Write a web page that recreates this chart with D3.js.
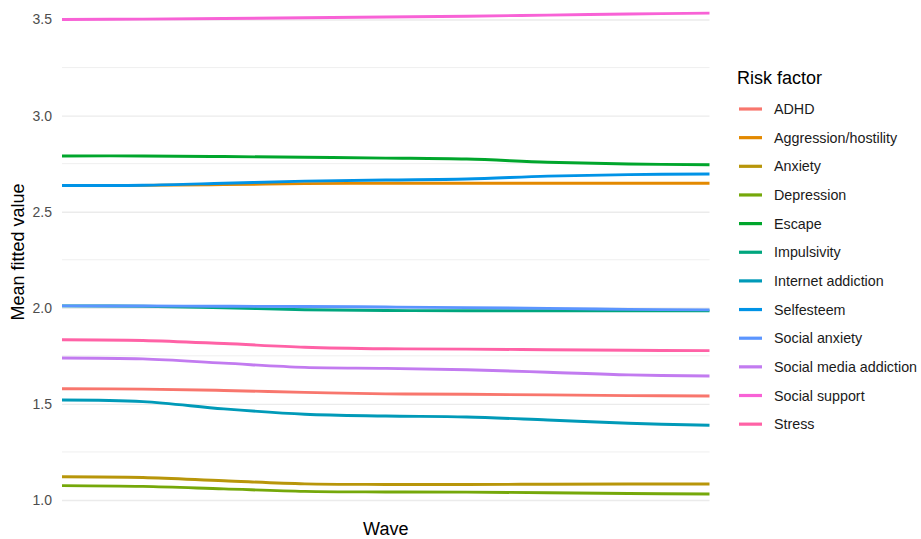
<!DOCTYPE html>
<html>
<head>
<meta charset="utf-8">
<script src="https://cdn.jsdelivr.net/npm/d3@7"></script>
<style>
  html, body { margin: 0; padding: 0; background: #ffffff; }
  svg { display: block; font-family: "Liberation Sans", Arial, Helvetica, sans-serif; }
</style>
</head>
<body>
<svg id="chart" width="921" height="539"></svg>
<script>
// ---- data ----
const wave = [1, 1.5, 2, 2.5, 3, 3.5, 4, 4.5, 5];
const factors = ["ADHD", "Aggression/hostility", "Anxiety", "Depression", "Escape", "Impulsivity",
  "Internet addiction", "Selfesteem", "Social anxiety", "Social media addiction", "Social support", "Stress"];
const colors = ["#F8766D", "#E38900", "#B8960A", "#75A80A", "#00A62C", "#00A67E",
  "#009AB8", "#0093E6", "#5B95FF", "#C27BF0", "#F862D6", "#FF62A6"];
const ADHD = [1.579, 1.577, 1.570, 1.560, 1.552, 1.550, 1.547, 1.543, 1.541];
const aggression = [2.636, 2.637, 2.641, 2.646, 2.648, 2.648, 2.648, 2.648, 2.648];
const anxiety = [1.121, 1.117, 1.100, 1.084, 1.081, 1.081, 1.082, 1.083, 1.083];
const depression = [1.075, 1.071, 1.058, 1.045, 1.042, 1.041, 1.038, 1.034, 1.031];
const escape = [2.790, 2.790, 2.787, 2.783, 2.779, 2.774, 2.757, 2.748, 2.744];
const impulsivity = [2.010, 2.008, 2.000, 1.990, 1.986, 1.985, 1.985, 1.985, 1.984];
const internetAddiction = [1.520, 1.512, 1.474, 1.446, 1.437, 1.432, 1.416, 1.399, 1.389];
const selfesteem = [2.636, 2.638, 2.648, 2.659, 2.665, 2.670, 2.685, 2.693, 2.696];
const socialAnxiety = [2.010, 2.009, 2.008, 2.007, 2.004, 2.001, 1.997, 1.992, 1.989];
const socialMediaAddiction = [1.739, 1.734, 1.712, 1.690, 1.685, 1.678, 1.665, 1.651, 1.645];
const socialSupport = [3.500, 3.502, 3.505, 3.509, 3.513, 3.517, 3.523, 3.529, 3.533];
const stress = [1.834, 1.830, 1.814, 1.795, 1.787, 1.785, 1.782, 1.779, 1.777];
const yMajorTicks = [1.0, 1.5, 2.0, 2.5, 3.0, 3.5];
const yMinorTicks = [1.25, 1.75, 2.25, 2.75, 3.25];

const seriesValues = [ADHD, aggression, anxiety, depression, escape, impulsivity,
  internetAddiction, selfesteem, socialAnxiety, socialMediaAddiction, socialSupport, stress];
const series = factors.map((name, i) => ({
  name, color: colors[i],
  values: wave.map((w, j) => ({ wave: w, value: seriesValues[i][j] }))
}));

// ---- layout ----
const svg = d3.select("#chart");
const plot = { left: 62, right: 709.5, top: 19.5, bottom: 500 };

const x = d3.scaleLinear().domain([1, 5]).range([plot.left, plot.right]);
const y = d3.scaleLinear().domain([1.0, 3.5]).range([plot.bottom, plot.top]);

// minor grid
svg.append("g").selectAll("line").data(yMinorTicks).join("line")
  .attr("x1", plot.left).attr("x2", plot.right)
  .attr("y1", d => y(d)).attr("y2", d => y(d))
  .attr("stroke", "#ebebeb").attr("stroke-width", 0.8);

// y axis with major grid
const yAxis = d3.axisLeft(y).tickValues(yMajorTicks).tickFormat(d3.format(".1f"))
  .tickSize(-(plot.right - plot.left)).tickPadding(10);
const gy = svg.append("g").attr("transform", `translate(${plot.left},0)`).call(yAxis);
gy.select(".domain").remove();
gy.selectAll(".tick line").attr("stroke", "#ebebeb").attr("stroke-width", 1.4);
gy.selectAll(".tick text").attr("fill", "#4d4d4d").attr("font-size", 14)
  .attr("font-family", "Liberation Sans, Arial, sans-serif");

// lines
const line = d3.line().x(d => x(d.wave)).y(d => y(d.value)).curve(d3.curveCatmullRom.alpha(0.5));
svg.append("g").selectAll("path").data(series).join("path")
  .attr("d", d => line(d.values))
  .attr("fill", "none").attr("stroke", d => d.color)
  .attr("stroke-width", 2.9).attr("stroke-linecap", "butt");

// axis titles
svg.append("text").attr("x", (plot.left + plot.right) / 2).attr("y", 535)
  .attr("text-anchor", "middle").attr("font-size", 18).attr("fill", "#000")
  .text("Wave");
svg.append("text")
  .attr("transform", `translate(24,${252}) rotate(-90)`)
  .attr("text-anchor", "middle").attr("font-size", 18).attr("fill", "#000")
  .text("Mean fitted value");

// legend
const legend = svg.append("g");
legend.append("text").attr("x", 737).attr("y", 84).attr("font-size", 18).attr("fill", "#000")
  .text("Risk factor");
const item = legend.selectAll("g.item").data(series).join("g").attr("class", "item")
  .attr("transform", (d, i) => `translate(0,${109 + i * 28.65})`);
item.append("line").attr("x1", 739).attr("x2", 762).attr("y1", 0).attr("y2", 0)
  .attr("stroke", d => d.color).attr("stroke-width", 3.2);
item.append("text").attr("x", 774).attr("y", 0).attr("dy", "0.35em")
  .attr("font-size", 14.3).attr("fill", "#1a1a1a").text(d => d.name);
</script>
</body>
</html>
